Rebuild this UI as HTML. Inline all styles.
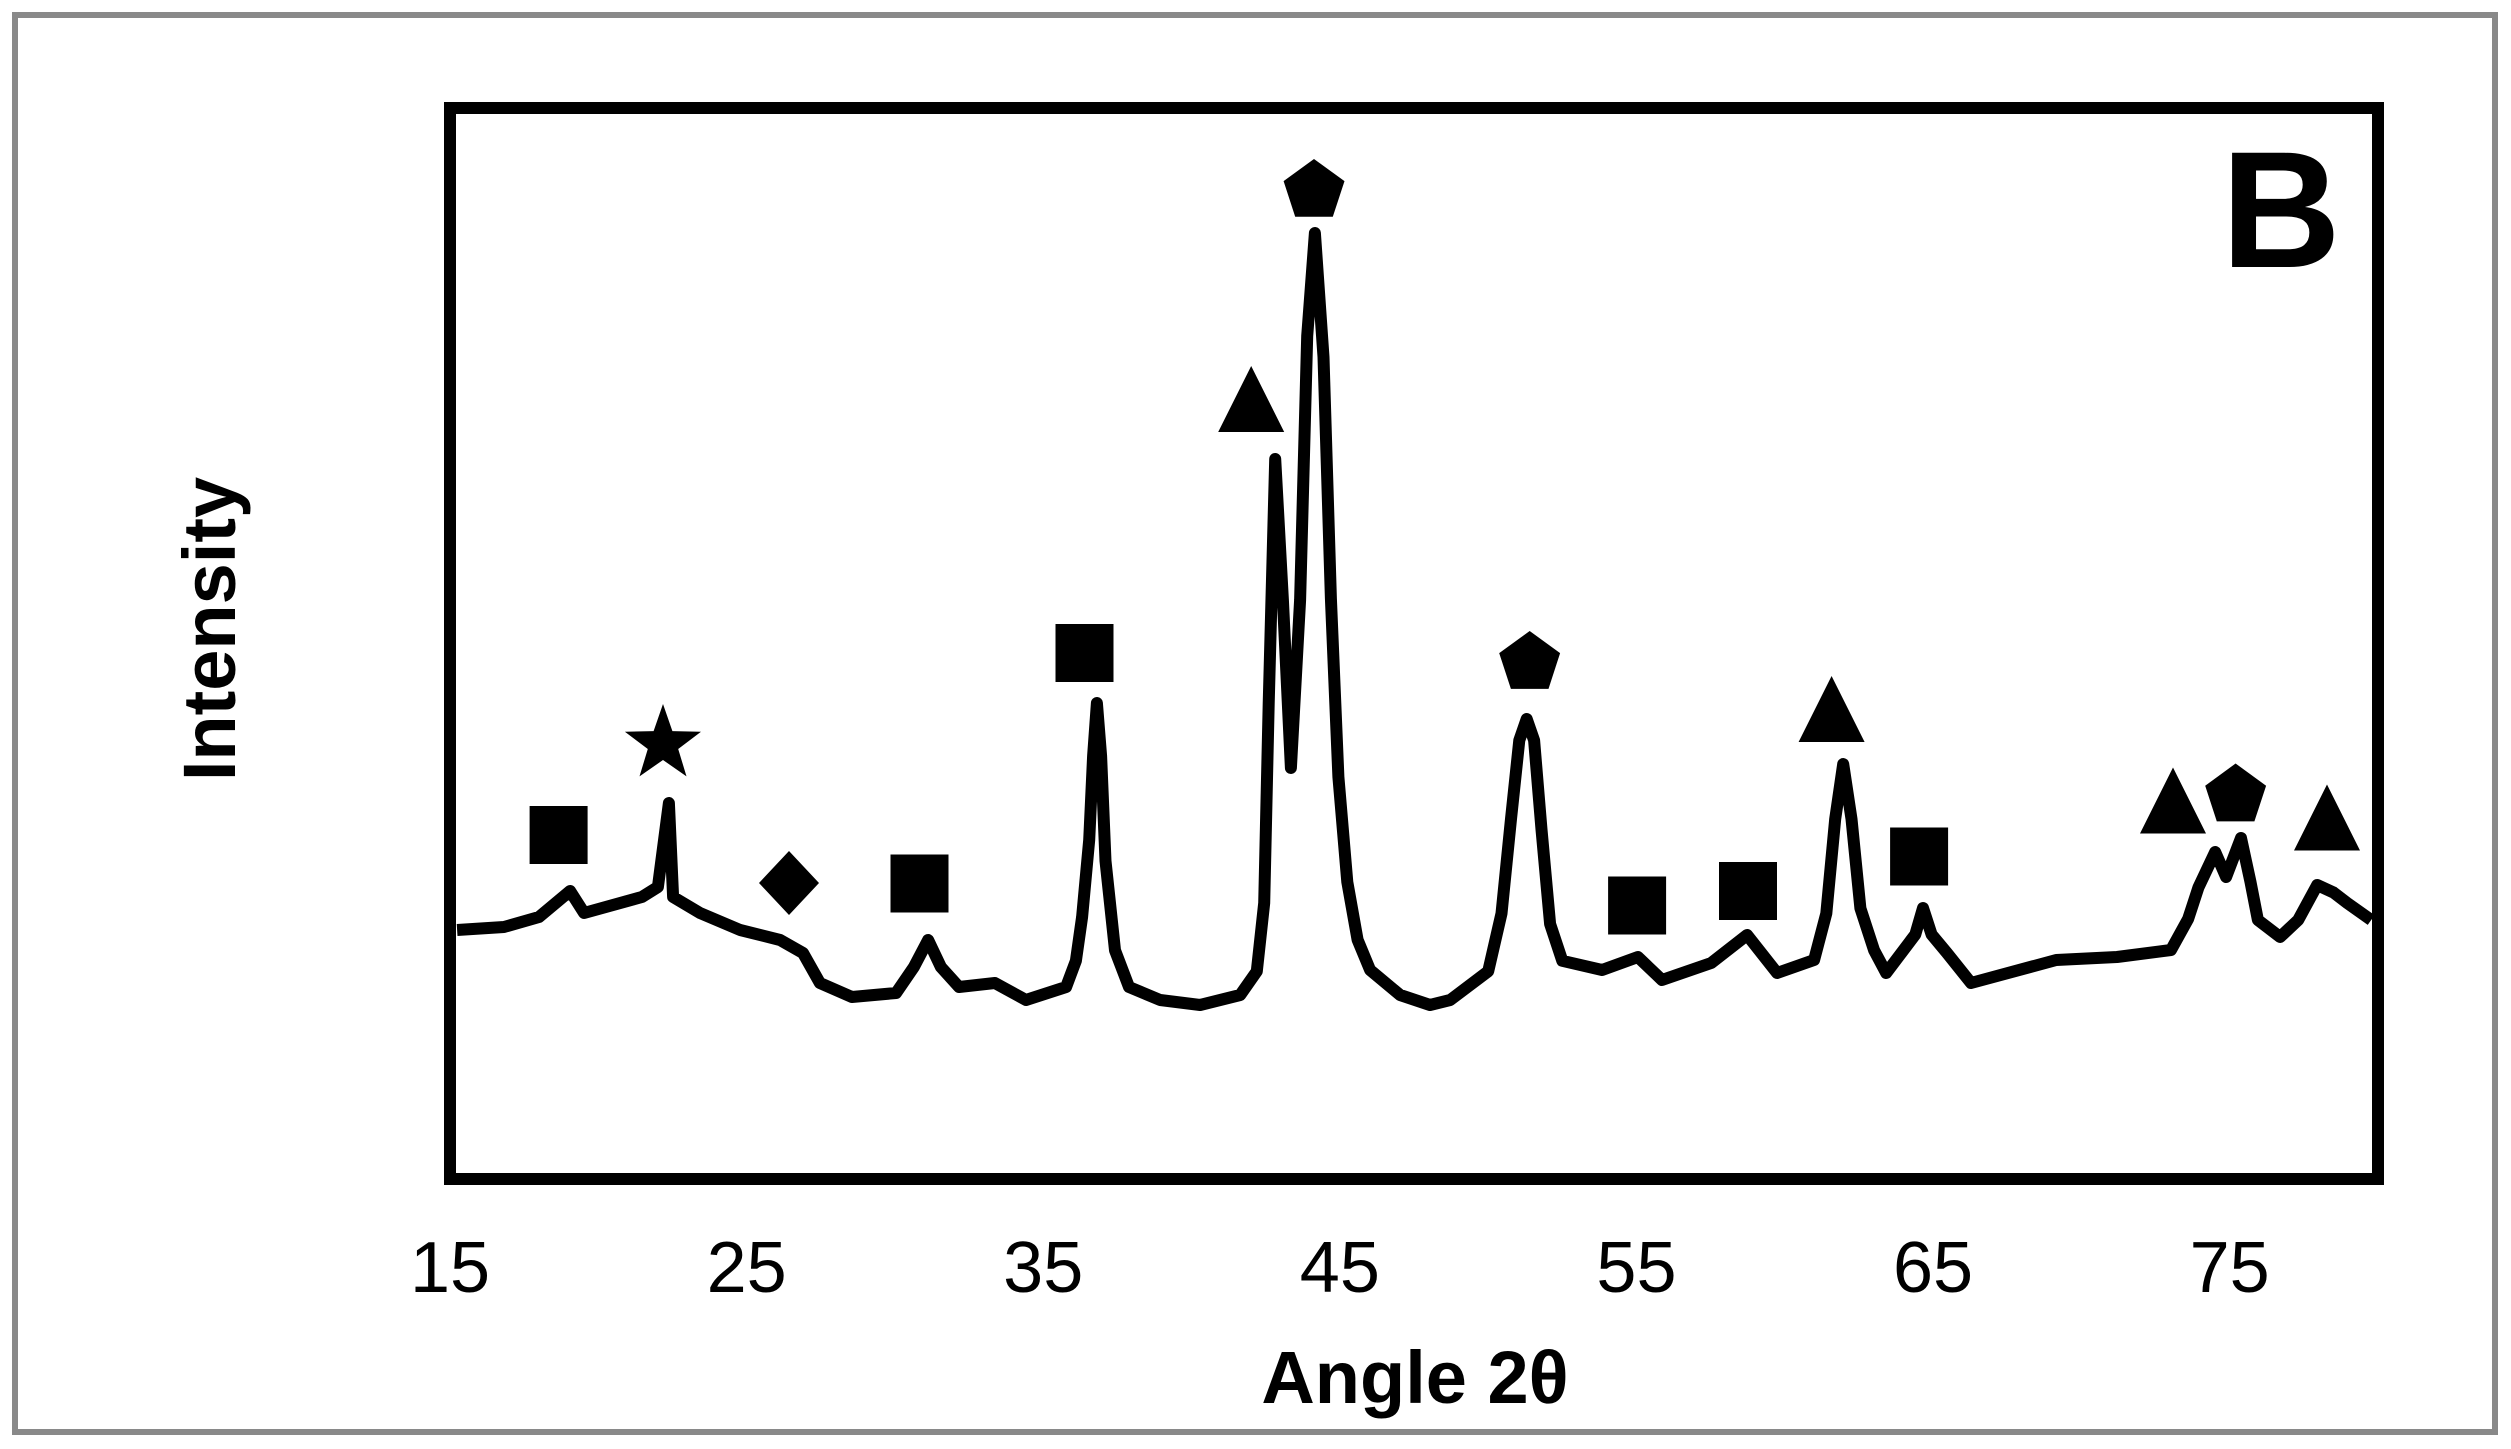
<!DOCTYPE html>
<html>
<head>
<meta charset="utf-8">
<style>
  html, body { margin: 0; padding: 0; background: #ffffff; }
  svg { display: block; }
</style>
</head>
<body>
<svg id="chart" xmlns="http://www.w3.org/2000/svg" width="2511" height="1449" viewBox="0 0 2511 1449">
  <rect x="0" y="0" width="2511" height="1449" fill="#ffffff"/>
  <rect x="15" y="15" width="2480" height="1417" fill="none" stroke="#898989" stroke-width="6"/>
  <g id="marks"></g>
  <rect x="450" y="108" width="1928" height="1071" fill="none" stroke="#000" stroke-width="12"/>
  <text x="2221" y="267" font-family="Liberation Sans, sans-serif" font-weight="bold" font-size="166">B</text>
  <g id="xticks"></g>
  <text x="1415" y="1403" text-anchor="middle" font-family="Liberation Sans, sans-serif" font-weight="bold" font-size="74">Angle 2θ</text>
  <text x="0" y="0" transform="translate(235,629) rotate(-90)" text-anchor="middle" font-family="Liberation Sans, sans-serif" font-weight="bold" font-size="74">Intensity</text>
</svg>
<script>
const xTickLabels = [15, 25, 35, 45, 55, 65, 75];
const angles = [15.24,16.82,18.00,19.05,19.52,21.47,22.01,22.38,22.52,23.43,24.78,26.13,26.90,27.47,28.55,30.04,30.64,31.12,31.55,32.16,33.37,34.42,35.77,36.10,36.31,36.55,36.68,36.81,36.95,37.10,37.42,37.89,38.94,40.29,41.64,42.20,42.45,42.60,42.82,43.08,43.35,43.66,43.90,44.16,44.45,44.70,44.95,45.25,45.60,46.02,47.03,48.04,48.72,50.00,50.45,50.77,51.05,51.30,51.55,51.80,52.09,52.50,53.84,55.05,55.86,57.52,58.73,59.74,60.99,61.40,61.70,61.97,62.25,62.55,63.01,63.42,64.40,64.66,64.95,65.47,66.28,69.15,71.20,73.02,73.60,73.95,74.51,74.88,75.38,75.70,75.95,76.70,77.31,77.95,78.50,78.96,79.77];
const intensities = [23.43,23.71,24.67,27.14,25.05,26.57,27.52,35.52,26.57,25.05,23.43,22.48,21.24,18.38,17.05,17.43,19.90,22.48,19.90,18.00,18.38,16.76,18.00,20.50,24.67,32.00,40.00,45.05,40.00,30.00,21.50,18.00,16.76,16.29,17.24,19.50,26.00,45.00,68.29,54.86,38.86,54.86,80.00,89.81,78.00,55.00,38.00,28.00,22.50,19.62,17.24,16.29,16.76,19.50,25.00,34.00,41.50,43.52,41.50,33.00,24.00,20.50,19.62,20.86,18.67,20.29,22.95,19.33,20.57,25.00,34.00,39.24,34.00,25.50,21.50,19.33,23.00,25.52,23.00,21.24,18.38,20.57,20.86,21.52,24.50,27.50,30.86,28.48,32.19,28.00,24.38,22.76,24.38,27.71,27.00,26.00,24.38];
const squareAngles = [18.66, 30.83, 36.39, 55.02, 58.76, 64.53];
const squareValues = [32.48, 27.86, 49.81, 25.76, 27.14, 30.43];
const triangleAngles = [42.01, 61.58, 73.09, 78.28];
const triangleValues = [74.0, 44.48, 35.76, 34.14];
const pentagonAngles = [44.13, 51.40, 75.20];
const pentagonValues = [94.10, 49.14, 36.52];
const starAngles = [22.18];
const starValues = [41.52];
const diamondAngles = [26.43];
const diamondValues = [27.90];

const NS = 'http://www.w3.org/2000/svg';
const X0 = 450, X1 = 2378, XMIN = 15, XMAX = 80;
function xScale(a) { return X0 + (a - XMIN) * (X1 - X0) / (XMAX - XMIN); }
function yScale(v) { return 1176 - v * 10.5; }

const marks = document.getElementById('marks');
const xt = document.getElementById('xticks');

xTickLabels.forEach(function (t) {
  const el = document.createElementNS(NS, 'text');
  
  
  el.setAttribute('x', xScale(t));
  el.setAttribute('y', 1292);
  el.setAttribute('text-anchor', 'middle');
  el.setAttribute('font-family', 'Liberation Sans, sans-serif');
  el.setAttribute('font-size', '72');
  el.textContent = t;
  xt.appendChild(el);
});

let d = '';
angles.forEach(function (a, i) {
  d += (i ? 'L' : 'M') + xScale(a).toFixed(1) + ' ' + yScale(intensities[i]).toFixed(1) + ' ';
});
const path = document.createElementNS(NS, 'path');


path.setAttribute('d', d);
path.setAttribute('fill', 'none');
path.setAttribute('stroke', '#000');
path.setAttribute('stroke-width', '12');
path.setAttribute('stroke-linejoin', 'round');
marks.appendChild(path);

function poly(cx, cy, pts) {
  return pts.map(function (p) { return (cx + p[0]).toFixed(1) + ',' + (cy + p[1]).toFixed(1); }).join(' ');
}
function addPoly(name, cx, cy, pts) {
  const el = document.createElementNS(NS, 'polygon');
  
  
  el.setAttribute('points', poly(cx, cy, pts));
  el.setAttribute('fill', '#000');
  marks.appendChild(el);
}

squareAngles.forEach(function (a, i) {
  addPoly('square-marker', xScale(a), yScale(squareValues[i]), [[-29,-29],[29,-29],[29,29],[-29,29]]);
});
triangleAngles.forEach(function (a, i) {
  addPoly('triangle-marker', xScale(a), yScale(triangleValues[i]), [[0,-33],[33,33],[-33,33]]);
});
const pent = [];
for (let k = 0; k < 5; k++) {
  const ang = -Math.PI / 2 + k * 2 * Math.PI / 5;
  pent.push([32 * Math.cos(ang), 32 * Math.sin(ang) + 3]);
}
pentagonAngles.forEach(function (a, i) {
  addPoly('pentagon-marker', xScale(a), yScale(pentagonValues[i]), pent);
});
const star = [];
for (let k = 0; k < 10; k++) {
  const ang = -Math.PI / 2 + k * Math.PI / 5;
  const r = (k % 2 === 0) ? 40 : 16;
  star.push([r * Math.cos(ang), r * Math.sin(ang) + 4]);
}
starAngles.forEach(function (a, i) {
  addPoly('star-marker', xScale(a), yScale(starValues[i]), star);
});
diamondAngles.forEach(function (a, i) {
  addPoly('diamond-marker', xScale(a), yScale(diamondValues[i]), [[0,-32],[30,0],[0,32],[-30,0]]);
});
</script>
</body>
</html>
